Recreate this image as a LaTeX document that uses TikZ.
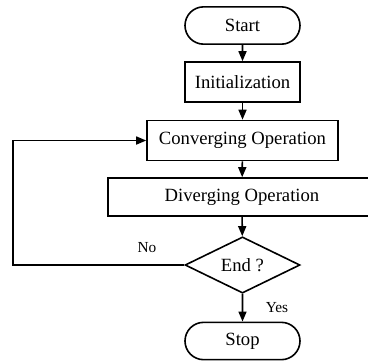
\documentclass[tikz,border=0pt]{standalone}
\usepackage{fontspec}
\setmainfont{Liberation Serif}
\usetikzlibrary{shapes.geometric,shapes.misc,arrows.meta}
\tikzset{every picture/.style={line width=1.2pt}}

\begin{document}
\begin{tikzpicture}[x=0.75pt,y=0.75pt,yscale=-1,xscale=1,
	term/.style={draw, rounded rectangle, minimum width=86.25pt, minimum height=28pt, inner sep=0pt, font=\fontsize{14}{16}\selectfont},
	proc/.style={draw, rectangle, minimum height=30pt, inner sep=0pt, font=\fontsize{14}{16}\selectfont},
	cond/.style={draw, diamond, minimum width=86.25pt, minimum height=42pt, inner sep=0pt, font=\fontsize{14}{16}\selectfont},
	lbl/.style={inner sep=0pt, font=\fontsize{11.5}{13}\selectfont},
	arr/.style={-{Triangle[length=7.5pt,width=6pt]}}]
	\clip (0,0) rectangle (368,361);
	\path[use as bounding box] (0,0) rectangle (368,361);

	%Terminal: Start
	\node [term] (start) at (242.5,25.5) {Start};
	%Process: Initialization
	\node [proc, minimum width=86.25pt] (init) at (242.5,82) {Initialization};
	%Process: Converging
	\node [proc, minimum width=143.25pt] (conv) at (242.5,140.5) {Converging Operation};
	%Process: Diverging
	\node [proc, minimum width=201pt, minimum height=28.5pt] (div) at (242,197) {Diverging Operation};
	%Decision: End
	\node [cond] (end) at (242.5,265) {End ?};
	%Terminal: Stop
	\node [term] (stop) at (242.5,341) {Stop};

	% Text Node
	\node [lbl] (no) at (147,248) {No};
	% Text Node
	\node [lbl] (yes) at (277,308) {Yes};

	\coordinate (back) at (13,140.5);

	%Connectors
	\draw [arr] (start) -- (init);
	\draw [arr] (init) -- (conv);
	\draw [arr] (conv) -- (div);
	\draw [arr] (div) -- (end);
	\draw [arr] (end) -- (stop);
	\draw [arr] (end.west) -| (back) -- (conv.west);

\end{tikzpicture}
\end{document}
